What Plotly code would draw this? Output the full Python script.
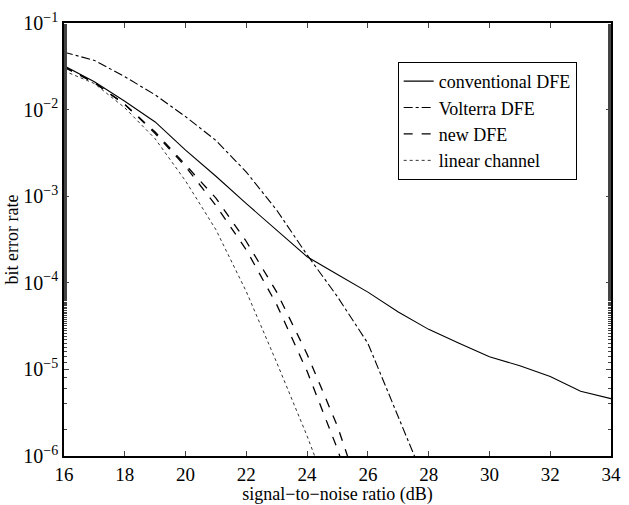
import plotly.graph_objects as go

# Bit error rate versus SNR for the equalisers under comparison
snr_db = [16, 17, 18, 19, 20, 21, 22, 23, 24, 25, 26, 27, 28, 29, 30, 31, 32, 33, 34]

ber_conventional = [0.032, 0.021, 0.0125, 0.0072, 0.0034, 0.0017, 8.2e-4, 4.0e-4,
                    2.0e-4, 1.25e-4, 7.8e-5, 4.6e-5, 2.9e-5, 2.0e-5, 1.4e-5,
                    1.1e-5, 8.3e-6, 5.6e-6, 4.6e-6]

snr_volterra = [16, 17, 18, 19, 20, 21, 22, 23, 24, 25, 26, 27, 28]
ber_volterra = [0.046, 0.037, 0.024, 0.0148, 0.0083, 0.0044, 0.0019, 6.9e-4,
                2.1e-4, 6.9e-5, 2.0e-5, 2.8e-6, 4.0e-7]

snr_new = [16, 17, 18, 19, 20, 21, 22, 23, 24, 25, 26]
ber_new_a = [0.031, 0.0205, 0.0115, 0.0053, 0.0022, 7.8e-4, 2.4e-4, 5.6e-5,
             9.5e-6, 1.2e-6, 1.0e-7]
ber_new_b = [0.031, 0.0205, 0.0115, 0.0055, 0.0023, 9.5e-4, 3.0e-4, 7.8e-5,
             1.5e-5, 2.2e-6, 2.0e-7]

snr_linear = [16, 17, 18, 19, 20, 21, 22, 23, 24, 25]
ber_linear = [0.028, 0.020, 0.0105, 0.0046, 0.0015, 4.1e-4, 7.9e-5, 1.2e-5,
              1.7e-6, 2.0e-7]

x_ticks = [16, 18, 20, 22, 24, 26, 28, 30, 32, 34]
y_ticks = [1e-6, 1e-5, 1e-4, 1e-3, 1e-2, 1e-1]
y_ticktext = ["10<sup>\u22126</sup>", "10<sup>\u22125</sup>", "10<sup>\u22124</sup>",
              "10<sup>\u22123</sup>", "10<sup>\u22122</sup>", "10<sup>\u22121</sup>"]

serif = "Liberation Serif, Times New Roman, serif"
font = dict(family=serif, size=18, color="black")

fig = go.Figure()
fig.add_trace(go.Scatter(x=snr_db, y=ber_conventional, mode="lines",
                         name="conventional DFE",
                         line=dict(color="black", width=1.1, dash="solid")))
fig.add_trace(go.Scatter(x=snr_volterra, y=ber_volterra, mode="lines",
                         name="Volterra DFE",
                         line=dict(color="black", width=1.1, dash="dashdot")))
fig.add_trace(go.Scatter(x=snr_new, y=ber_new_a, mode="lines",
                         name="new DFE",
                         line=dict(color="black", width=1.3, dash="dash")))
fig.add_trace(go.Scatter(x=snr_new, y=ber_new_b, mode="lines",
                         name="new DFE", showlegend=False,
                         line=dict(color="black", width=1.3, dash="dash")))
fig.add_trace(go.Scatter(x=snr_linear, y=ber_linear, mode="lines",
                         name="linear channel",
                         line=dict(color="#333333", width=1, dash="dot")))

fig.update_layout(
    width=629, height=505,
    margin=dict(l=64, r=8, t=23, b=43),
    paper_bgcolor="white", plot_bgcolor="white",
    font=font,
    showlegend=True,
    legend=dict(x=0.61, y=0.91, xanchor="left", yanchor="top",
                bgcolor="white", bordercolor="black", borderwidth=1,
                font=dict(family=serif, size=18, color="black"),
                tracegroupgap=0, itemwidth=30),
    xaxis=dict(range=[16, 34], tickvals=x_ticks, ticks="inside", ticklen=5,
               tickfont=dict(family=serif, size=19, color="black"),
               showline=True, linecolor="black", linewidth=1.5, mirror="ticks",
               showgrid=False, zeroline=False,
               title=dict(text="signal\u2212to\u2212noise ratio (dB)", standoff=0,
                          font=font)),
    yaxis=dict(type="log", range=[-6, -1], tickvals=y_ticks, ticktext=y_ticktext,
               ticks="inside", ticklen=5,
               tickfont=dict(family=serif, size=20, color="black"),
               minor=dict(ticks="inside", ticklen=3, showgrid=False),
               showline=True, linecolor="black", linewidth=1.5, mirror="ticks",
               showgrid=False, zeroline=False,
               title=dict(text="bit error rate", standoff=0, font=font)),
)

fig.write_html("out.html")
